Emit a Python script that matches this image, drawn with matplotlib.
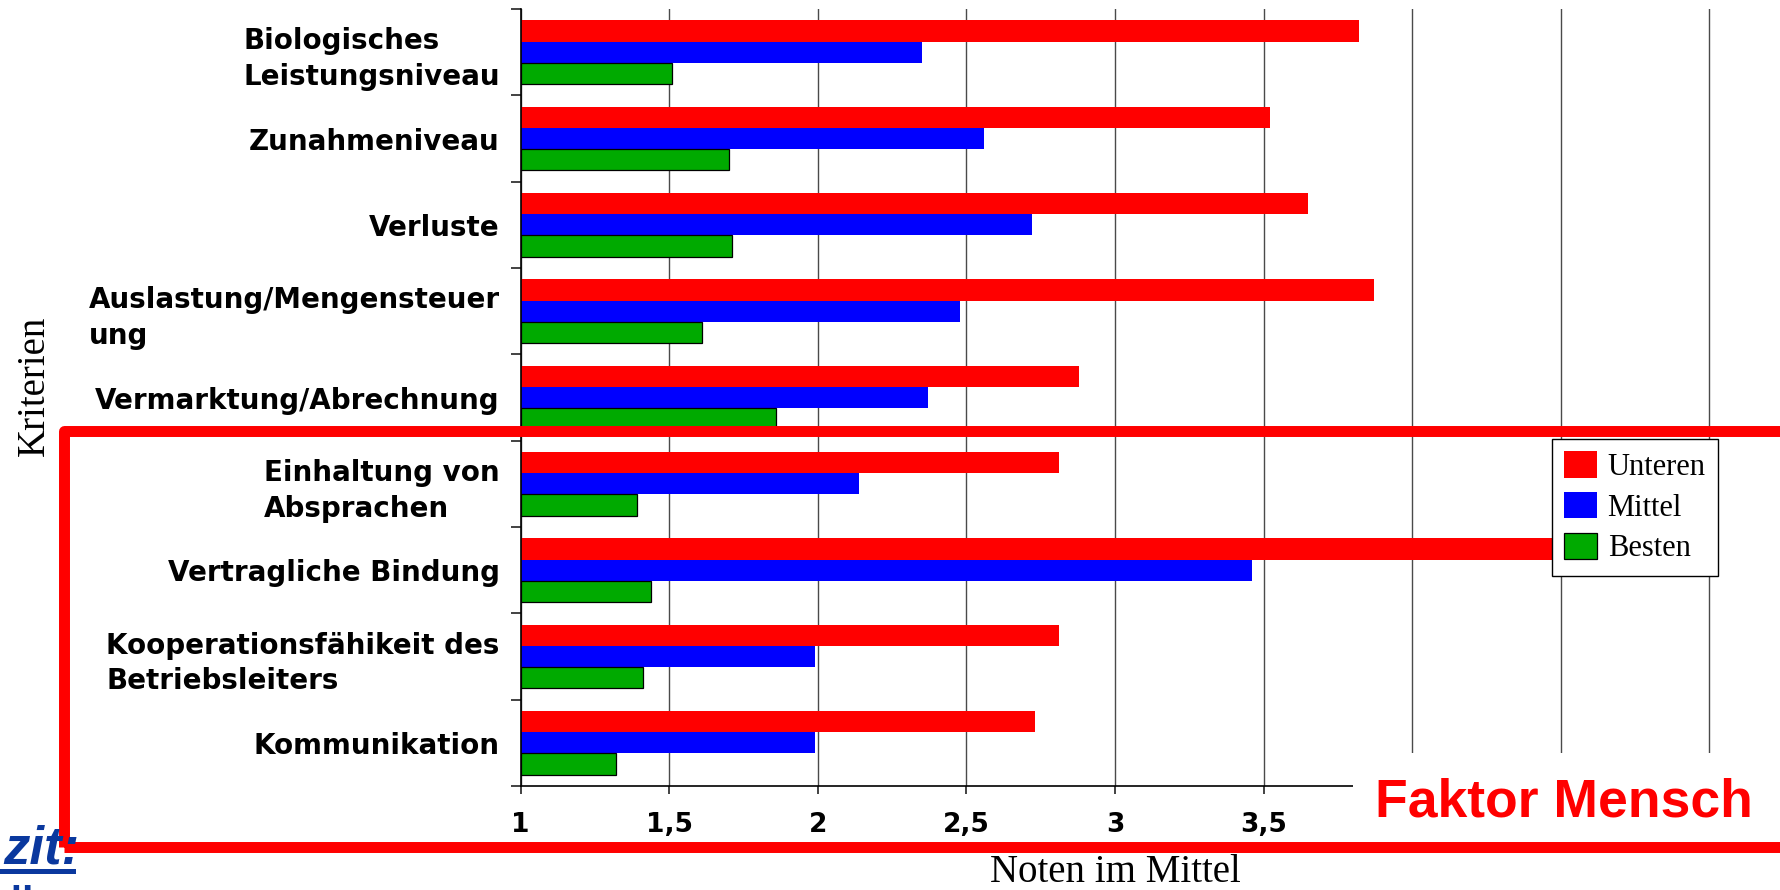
import numpy as np
import matplotlib
matplotlib.use("Agg")
import matplotlib.pyplot as plt
from matplotlib.patches import Rectangle

# Daten (Noten im Mittel je Kriterium)
kriterien = [
    "Biologisches\nLeistungsniveau",
    "Zunahmeniveau",
    "Verluste",
    "Auslastung/Mengensteuer\nung",
    "Vermarktung/Abrechnung",
    "Einhaltung von\nAbsprachen",
    "Vertragliche Bindung",
    "Kooperationsfähikeit des\nBetriebsleiters",
    "Kommunikation",
]
unteren = [3.82, 3.52, 3.65, 3.87, 2.88, 2.81, 4.50, 2.81, 2.73]
mittel = [2.35, 2.56, 2.72, 2.48, 2.37, 2.14, 3.46, 1.99, 1.99]
besten = [1.51, 1.70, 1.71, 1.61, 1.86, 1.39, 1.44, 1.41, 1.32]
serien = ["Unteren", "Mittel", "Besten"]
xticks = [1, 1.5, 2, 2.5, 3, 3.5, 4, 4.5, 5]
# 4 bis 5 liegen unter dem Kasten "Faktor Mensch"
xtick_labels = ["1", "1,5", "2", "2,5", "3", "3,5", "", "", ""]

W, H = 1780, 890


def fx(px):
    return px / W


def fy(py):
    return 1 - py / H


fig = plt.figure(figsize=(W / 100, H / 100), dpi=100)
ax = fig.add_axes([fx(520.7), fy(786), (1710.5 - 520.7) / W, 777 / H])

y = np.arange(len(kriterien))
h = 0.247
ax.barh(y - h, np.array(unteren) - 1, left=1, height=h, color="#ff0000",
        edgecolor="none", label=serien[0], zorder=2)
ax.barh(y, np.array(mittel) - 1, left=1, height=h, color="#0000ff",
        edgecolor="none", label=serien[1], zorder=2)
ax.barh(y + h, np.array(besten) - 1, left=1, height=h, color="#00aa00",
        edgecolor="black", linewidth=0.9, label=serien[2], zorder=2)

ax.set_xlim(1, 5.004)
ax.set_ylim(len(kriterien) - 0.5, -0.5)

ax.set_xticks(xticks)
ax.set_xticklabels(xtick_labels, fontsize=19, fontweight="bold")
ax.set_yticks(np.arange(len(kriterien) + 1) - 0.5)
ax.set_yticklabels([])
ax.set_yticks(y, minor=True)
ax.set_yticklabels(kriterien, minor=True, fontsize=20, fontweight="bold")
for lbl in ax.get_yticklabels(minor=True):
    lbl.set_multialignment("left")
    lbl.set_linespacing(1.35)

ax.tick_params(axis="y", which="major", length=7, width=1.2, direction="out", color="#222222")
ax.tick_params(axis="y", which="minor", length=0, pad=15)
ax.tick_params(axis="x", length=5.5, width=1.2, pad=13, color="#222222")

ax.spines[["top", "right"]].set_visible(False)
ax.spines[["left", "bottom"]].set_linewidth(1.2)
ax.set_axisbelow(True)
ax.grid(axis="x", color="#4a4a4a", linewidth=1.0)

ax.set_xlabel("Noten im Mittel", family="Liberation Serif", fontsize=28)
ax.xaxis.label.set_va("baseline")
ax.xaxis.set_label_coords(0.5, -0.1232)
ax.set_ylabel("Kriterien", family="Liberation Serif", fontsize=28)
ax.yaxis.label.set_va("center")
ax.yaxis.set_label_coords(-0.409, 0.515)

leg = ax.legend(loc="upper left", bbox_to_anchor=(fx(1551.7), fy(439)),
                bbox_transform=fig.transFigure,
                prop={"family": "Liberation Serif", "size": 22},
                frameon=True, fancybox=False, framealpha=1, edgecolor="black",
                borderaxespad=0, borderpad=0.4, handlelength=1.08,
                handleheight=0.95, handletextpad=0.35, labelspacing=0.33)
leg.get_frame().set_linewidth(1.0)

# weisse Flaeche mit "Faktor Mensch"
fig.add_artist(Rectangle((fx(1353), fy(848)), 1.02 - fx(1353), fy(753) - fy(848),
                         transform=fig.transFigure, facecolor="white",
                         edgecolor="none", zorder=5))
fig.text(fx(1375), fy(816.7), "Faktor Mensch", color="#ff0000", fontsize=38.5,
         fontweight="bold", family="Liberation Sans", va="baseline", ha="left",
         zorder=7)

# roter Rahmen
fig.add_artist(Rectangle((fx(64), fy(847)), 1.1, fy(431) - fy(847),
                         transform=fig.transFigure, fill=False,
                         edgecolor="#ff0000", linewidth=7.9, joinstyle="round",
                         zorder=6))

# Logo-Rest unten links
blau = "#0a389e"
fig.text(fx(3), fy(863), "zit:", color=blau, fontsize=38, fontweight="bold",
         style="italic", family="Liberation Sans", va="baseline", zorder=7)
fig.add_artist(Rectangle((0, fy(874)), fx(76), fy(869) - fy(874),
                         transform=fig.transFigure, facecolor=blau,
                         edgecolor="none", zorder=7))
fig.text(fx(6), fy(921), "ü", color=blau, fontsize=38, fontweight="bold",
         family="Liberation Sans", va="baseline", zorder=7)

fig.savefig("out.png", dpi=100)
